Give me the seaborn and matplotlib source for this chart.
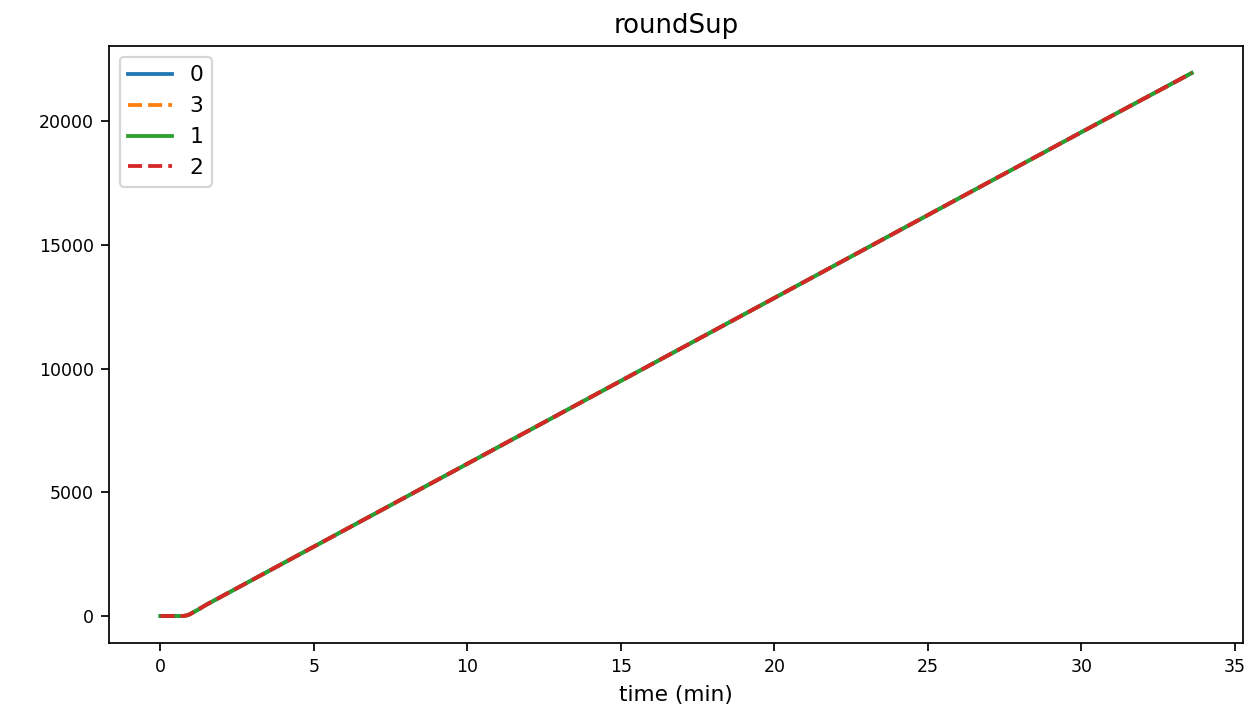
import pandas as pd
import matplotlib
matplotlib.use("Agg")
import matplotlib.pyplot as plt
import seaborn as sns

# time axis (minutes) and cumulative counts
time_min = [0.0, 0.3, 0.7, 0.8, 0.9, 1.0, 1.2, 1.5, 2.0, 3.0, 5.0, 10.0, 15.0, 20.0, 25.0, 30.0, 33.6]
counts = [0, 0, 0, 10, 40, 100, 240, 460, 795, 1465, 2805, 6155, 9505, 12855, 16205, 19555, 21950]

series_names = ["0", "3", "1", "2"]
series_values = {
    "0": counts,
    "3": counts,
    "1": counts,
    "2": counts,
}
series_colors = {"0": "#1f77b4", "3": "#ff7f0e", "1": "#2ca02c", "2": "#d62728"}
series_dashed = {"0": False, "3": True, "1": False, "2": True}

DPI = 156.25
fig, ax = plt.subplots(figsize=(1252 / DPI, 717 / DPI), dpi=DPI)

for name in series_names:
    df = pd.DataFrame({"time (min)": time_min, "value": series_values[name]})
    sns.lineplot(data=df, x="time (min)", y="value", ax=ax, label=name,
                 color=series_colors[name], linewidth=1.75,
                 linestyle="--" if series_dashed[name] else "-")

ax.set_title("roundSup")
ax.set_ylabel("")
ax.tick_params(labelsize=8)
ax.legend(loc="upper left")

fig.subplots_adjust(left=0.087, right=0.993, top=0.936, bottom=0.103)
plt.savefig("out.png", dpi=DPI)
